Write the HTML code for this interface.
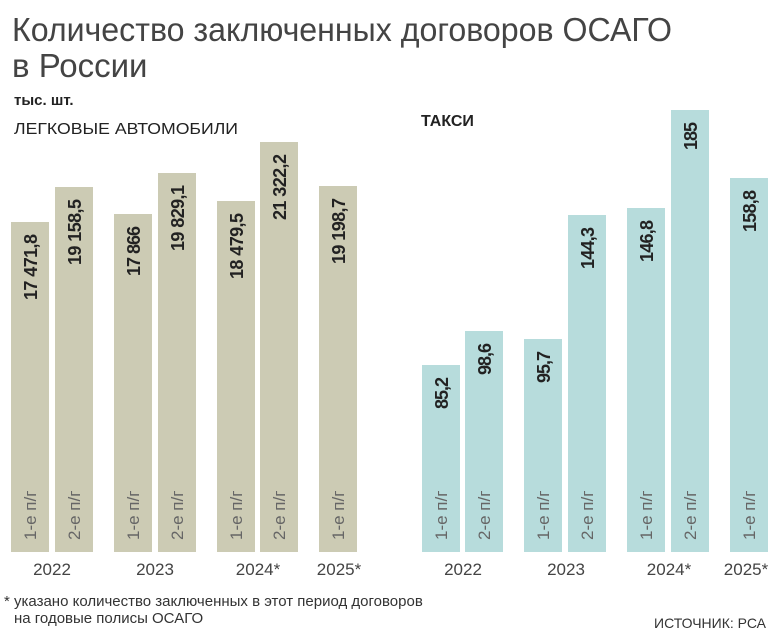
<!DOCTYPE html>
<html><head><meta charset="utf-8"><style>
body{margin:0;background:#fff;}
svg{display:block;font-family:"Liberation Sans",sans-serif;}
</style></head><body>
<svg width="776" height="638" viewBox="0 0 776 638" xmlns="http://www.w3.org/2000/svg">
<text x="12" y="41" font-size="33" fill="#444" textLength="660" lengthAdjust="spacingAndGlyphs">Количество заключенных договоров ОСАГО</text>
<text x="12" y="77" font-size="33" fill="#444">в России</text>
<text x="14" y="105" font-size="15" font-weight="bold" fill="#222">тыс. шт.</text>
<text x="14" y="134" font-size="16" fill="#222" textLength="224" lengthAdjust="spacingAndGlyphs">ЛЕГКОВЫЕ АВТОМОБИЛИ</text>
<text x="421" y="126" font-size="16" font-weight="bold" fill="#222">ТАКСИ</text>
<g fill="#cccbb4">
<rect x="11" y="222" width="38" height="330"/><rect x="55" y="187" width="38" height="365"/>
<rect x="114" y="214" width="38" height="338"/><rect x="158" y="173" width="38" height="379"/>
<rect x="217" y="201" width="38" height="351"/><rect x="260" y="142" width="38" height="410"/>
<rect x="319" y="186" width="38" height="366"/>
</g>
<g fill="#b7dcdc">
<rect x="422" y="365" width="38" height="187"/><rect x="465" y="331" width="38" height="221"/>
<rect x="524" y="339" width="38" height="213"/><rect x="568" y="215" width="38" height="337"/>
<rect x="627" y="208" width="38" height="344"/><rect x="671" y="110" width="38" height="442"/>
<rect x="730" y="178" width="38" height="374"/>
</g>
<g font-size="18" font-weight="bold" fill="#222" text-anchor="end" lengthAdjust="spacingAndGlyphs">
<text transform="translate(37,234) rotate(-90)" textLength="66">17 471,8</text>
<text transform="translate(81,199) rotate(-90)" textLength="66">19 158,5</text>
<text transform="translate(140,226) rotate(-90)" textLength="50">17 866</text>
<text transform="translate(184,185) rotate(-90)" textLength="66">19 829,1</text>
<text transform="translate(243,213) rotate(-90)" textLength="66">18 479,5</text>
<text transform="translate(286,154) rotate(-90)" textLength="66">21 322,2</text>
<text transform="translate(345,198) rotate(-90)" textLength="66">19 198,7</text>
<text transform="translate(448,377) rotate(-90)" textLength="32">85,2</text>
<text transform="translate(491,343) rotate(-90)" textLength="32">98,6</text>
<text transform="translate(550,351) rotate(-90)" textLength="32">95,7</text>
<text transform="translate(594,227) rotate(-90)" textLength="42">144,3</text>
<text transform="translate(653,220) rotate(-90)" textLength="42">146,8</text>
<text transform="translate(697,122) rotate(-90)" textLength="28">185</text>
<text transform="translate(756,190) rotate(-90)" textLength="42">158,8</text>
</g>
<g font-size="17" fill="#666" text-anchor="start">
<text transform="translate(36,540) rotate(-90)">1-е п/г</text>
<text transform="translate(80,540) rotate(-90)">2-е п/г</text>
<text transform="translate(139,540) rotate(-90)">1-е п/г</text>
<text transform="translate(183,540) rotate(-90)">2-е п/г</text>
<text transform="translate(242,540) rotate(-90)">1-е п/г</text>
<text transform="translate(285,540) rotate(-90)">2-е п/г</text>
<text transform="translate(344,540) rotate(-90)">1-е п/г</text>
<text transform="translate(447,540) rotate(-90)">1-е п/г</text>
<text transform="translate(490,540) rotate(-90)">2-е п/г</text>
<text transform="translate(549,540) rotate(-90)">1-е п/г</text>
<text transform="translate(593,540) rotate(-90)">2-е п/г</text>
<text transform="translate(652,540) rotate(-90)">1-е п/г</text>
<text transform="translate(696,540) rotate(-90)">2-е п/г</text>
<text transform="translate(755,540) rotate(-90)">1-е п/г</text>
</g>
<g font-size="17" fill="#444" text-anchor="middle">
<text x="52" y="575">2022</text><text x="155" y="575">2023</text>
<text x="258" y="575">2024*</text><text x="339" y="575">2025*</text>
<text x="463" y="575">2022</text><text x="566" y="575">2023</text>
<text x="669" y="575">2024*</text><text x="746" y="575">2025*</text>
</g>
<text x="4" y="606" font-size="15" fill="#333">* указано количество заключенных в этот период договоров</text>
<text x="14" y="623" font-size="15" fill="#333">на годовые полисы ОСАГО</text>
<text x="766" y="628" font-size="14" fill="#333" text-anchor="end">ИСТОЧНИК: РСА</text>
</svg>
</body></html>
